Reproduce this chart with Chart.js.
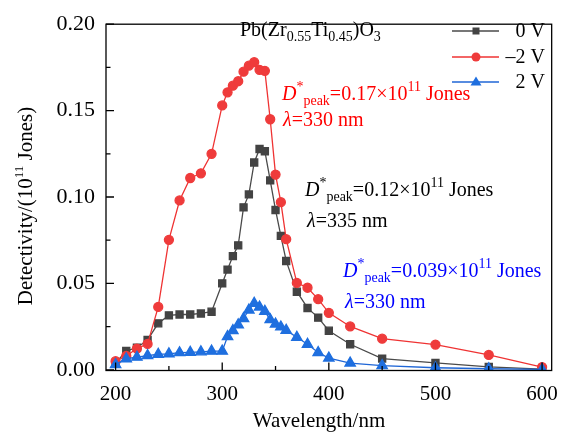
<!DOCTYPE html>
<html>
<head>
<meta charset="utf-8">
<script src="https://cdn.jsdelivr.net/npm/chart.js@4.4.1/dist/chart.umd.min.js"></script>
<style>
  body { margin: 0; background: #fff; }
  #wrap { width: 569px; height: 435px; }
</style>
</head>
<body>
<div id="wrap"><canvas id="detChart" width="569" height="435"></canvas></div>
<script>
// wavelength (nm) shared by all three curves
const wavelengths = [200, 210, 220, 230, 240, 250, 260, 270, 280, 290, 300, 305, 310, 315, 320, 325,
    330, 335, 340, 345, 350, 355, 360, 370, 380, 390, 400, 420, 450, 500, 550, 600];
// detectivity, 10^11 Jones
const det0V = [0.004, 0.0109, 0.0128, 0.0173, 0.0269, 0.0315, 0.032, 0.032, 0.0326, 0.0336, 0.05, 0.058,
    0.0658, 0.072, 0.094, 0.1015, 0.12, 0.1278, 0.1265, 0.1096, 0.0925, 0.0775, 0.063, 0.0452, 0.0358,
    0.0302, 0.0226, 0.0148, 0.0065, 0.004, 0.0017, 0.0004];
const detNeg2V = [0.005, 0.008, 0.0123, 0.015, 0.0364, 0.0752, 0.098, 0.111, 0.1137, 0.125, 0.153, 0.1606,
    0.1644, 0.167, 0.1725, 0.176, 0.178, 0.1736, 0.173, 0.145, 0.113, 0.097, 0.0756, 0.0503, 0.0475,
    0.0409, 0.033, 0.0251, 0.018, 0.0146, 0.0086, 0.0016];
const det2V = [0.003, 0.0064, 0.0073, 0.0082, 0.009, 0.0092, 0.0099, 0.0101, 0.0104, 0.0108, 0.0108, 0.0192,
    0.0227, 0.026, 0.0297, 0.0346, 0.0385, 0.0363, 0.0338, 0.029, 0.0265, 0.0248, 0.0228, 0.0188, 0.0148,
    0.01, 0.0068, 0.0039, 0.0024, 0.0012, 0.0006, 0.0002];
const seriesLabels = ["0 V", "\u20132 V", "2 V"];
const xTicks = [200, 300, 400, 500, 600];
const yTicks = [0, 0.05, 0.10, 0.15, 0.20];

const SERIF = "'Liberation Serif', 'Times New Roman', serif";

function toPoints(arr) {
    return wavelengths.map((w, i) => ({ x: w, y: arr[i] }));
}

// draws pieces of text one after another (for sub/superscripts)
function drawRich(ctx, x, y, parts, color) {
    ctx.save();
    ctx.fillStyle = color;
    ctx.textBaseline = "alphabetic";
    ctx.textAlign = "left";
    parts.forEach(p => {
        const size = p.size || 20;
        ctx.font = (p.italic ? "italic " : "") + size + "px " + SERIF;
        ctx.fillText(p.t, x, y + (p.dy || 0));
        x += ctx.measureText(p.t).width;
    });
    ctx.restore();
}

function dPeak(value) {
    return [
        { t: "D", italic: true },
        { t: "*", size: 14, dy: -9 },
        { t: "peak", size: 14, dy: 5 },
        { t: "=" + value + "\u00d710" },
        { t: "11", size: 14, dy: -9 },
        { t: " Jones" }
    ];
}

function marker(ctx, style, x, y, color) {
    ctx.fillStyle = color;
    ctx.beginPath();
    if (style === "rect") {
        ctx.rect(x - 3.5, y - 3.5, 7, 7);
    } else if (style === "circle") {
        ctx.arc(x, y, 4.5, 0, Math.PI * 2);
    } else {
        ctx.moveTo(x, y - 5.5);
        ctx.lineTo(x + 5.5, y + 3.5);
        ctx.lineTo(x - 5.5, y + 3.5);
        ctx.closePath();
    }
    ctx.fill();
}

const decor = {
    id: "decor",
    afterDatasetsDraw(chart) {
        const ctx = chart.ctx;
        const a = chart.chartArea;
        const xs = chart.scales.x, ys = chart.scales.y;

        ctx.save();
        ctx.strokeStyle = "#000";
        ctx.lineWidth = 1.3;
        ctx.strokeRect(a.left, a.top, a.right - a.left, a.bottom - a.top);

        // inward ticks, major and minor
        ctx.beginPath();
        xTicks.forEach((v, i) => {
            const px = xs.getPixelForValue(v);
            ctx.moveTo(px, a.bottom); ctx.lineTo(px, a.bottom - 8);
            if (i < xTicks.length - 1) {
                const mx = xs.getPixelForValue((v + xTicks[i + 1]) / 2);
                ctx.moveTo(mx, a.bottom); ctx.lineTo(mx, a.bottom - 4.5);
            }
        });
        yTicks.forEach((v, i) => {
            const py = ys.getPixelForValue(v);
            ctx.moveTo(a.left, py); ctx.lineTo(a.left + 8, py);
            if (i < yTicks.length - 1) {
                const my = ys.getPixelForValue((v + yTicks[i + 1]) / 2);
                ctx.moveTo(a.left, my); ctx.lineTo(a.left + 4.5, my);
            }
        });
        ctx.stroke();

        // axis titles
        ctx.fillStyle = "#000";
        ctx.font = "21px " + SERIF;
        ctx.textAlign = "center";
        ctx.textBaseline = "alphabetic";
        ctx.fillText("Wavelength/nm", 319, 427);

        ctx.save();
        ctx.translate(32, 206);
        ctx.rotate(-Math.PI / 2);
        const yParts = [{ t: "Detectivity/(10", size: 21 }, { t: "11", size: 13, dy: -9 }, { t: " Jones)", size: 21 }];
        let w = 0;
        yParts.forEach(p => { ctx.font = p.size + "px " + SERIF; w += ctx.measureText(p.t).width; });
        drawRich(ctx, -w / 2, 0, yParts, "#000");
        ctx.restore();

        // sample name
        drawRich(ctx, 240, 36, [
            { t: "Pb(Zr" }, { t: "0.55", size: 14, dy: 5 }, { t: "Ti" },
            { t: "0.45", size: 14, dy: 5 }, { t: ")O" }, { t: "3", size: 14, dy: 5 }
        ], "#000");

        // peak annotations
        drawRich(ctx, 282, 100, dPeak("0.17"), "#ff0000");
        drawRich(ctx, 283, 126, [{ t: "\u03bb", italic: true }, { t: "=330 nm" }], "#ff0000");
        drawRich(ctx, 305, 196, dPeak("0.12"), "#000");
        drawRich(ctx, 307, 227, [{ t: "\u03bb", italic: true }, { t: "=335 nm" }], "#000");
        drawRich(ctx, 343, 277, dPeak("0.039"), "#0000ff");
        drawRich(ctx, 345, 308, [{ t: "\u03bb", italic: true }, { t: "=330 nm" }], "#0000ff");

        // legend
        const rows = [31, 57, 82];
        chart.data.datasets.forEach((ds, i) => {
            const y = rows[i];
            ctx.strokeStyle = ds.borderColor;
            ctx.lineWidth = 1.3;
            ctx.beginPath(); ctx.moveTo(452, y); ctx.lineTo(499, y); ctx.stroke();
            marker(ctx, ds.pointStyle, 476, y, ds.pointBackgroundColor);
            ctx.fillStyle = "#000";
            ctx.font = "20px " + SERIF;
            ctx.textAlign = "right";
            ctx.textBaseline = "middle";
            ctx.fillText(ds.label, 545, y + 1);
        });
        ctx.restore();
    }
};

new Chart(document.getElementById("detChart"), {
    type: "line",
    data: {
        datasets: [{
            label: seriesLabels[0],
            data: toPoints(det0V),
            borderColor: "#4a4a4a",
            pointBackgroundColor: "#434343",
            pointBorderColor: "#434343",
            pointStyle: "rect",
            pointRadius: 5,
            borderWidth: 1.3,
            order: 2
        }, {
            label: seriesLabels[1],
            data: toPoints(detNeg2V),
            borderColor: "#ef3333",
            pointBackgroundColor: "#ef3b3b",
            pointBorderColor: "#ef3b3b",
            pointStyle: "circle",
            pointRadius: 4.5,
            borderWidth: 1.3,
            order: 1
        }, {
            label: seriesLabels[2],
            data: toPoints(det2V),
            borderColor: "#1f66d6",
            pointBackgroundColor: "#1f6fdf",
            pointBorderColor: "#1f6fdf",
            pointStyle: "triangle",
            pointRadius: 6,
            borderWidth: 1.3,
            order: 0
        }]
    },
    options: {
        responsive: false,
        animation: false,
        layout: { padding: { left: 0, right: 8, top: 14, bottom: 0 } },
        plugins: { legend: { display: false }, tooltip: { enabled: false } },
        elements: { line: { tension: 0 }, point: { borderWidth: 0 } },
        scales: {
            x: {
                type: "linear",
                min: 191,
                max: 609,
                afterBuildTicks: s => { s.ticks = xTicks.map(v => ({ value: v })); },
                afterFit: s => { s.height = 64.5; },
                grid: { display: false, drawTicks: false },
                border: { display: false },
                ticks: {
                    padding: 11,
                    color: "#000",
                    font: { family: SERIF, size: 21 },
                    callback: v => String(v)
                }
            },
            y: {
                type: "linear",
                min: -0.0004,
                max: 0.2,
                afterBuildTicks: s => { s.ticks = yTicks.map(v => ({ value: v })); },
                afterFit: s => { s.width = 106; },
                grid: { display: false, drawTicks: false },
                border: { display: false },
                ticks: {
                    padding: 11,
                    color: "#000",
                    font: { family: SERIF, size: 22 },
                    callback: v => v.toFixed(2)
                }
            }
        }
    },
    plugins: [decor]
});
</script>
</body>
</html>
